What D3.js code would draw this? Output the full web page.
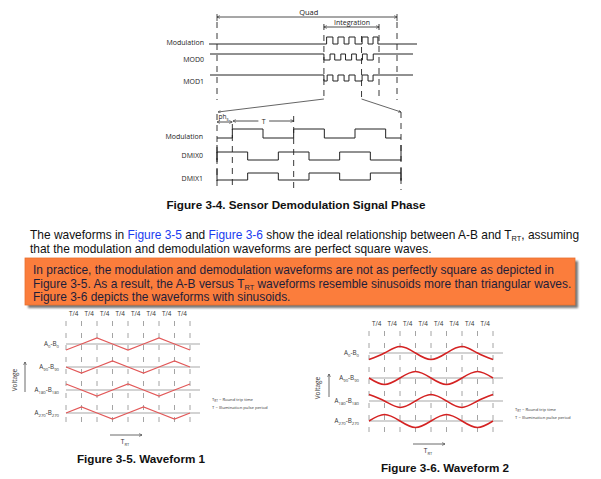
<!DOCTYPE html>
<html><head><meta charset="utf-8">
<script src="https://cdn.jsdelivr.net/npm/d3@7"></script>
<style>
html,body{margin:0;padding:0;background:#fff;}
svg{display:block;}
</style></head>
<body>
<script>
// ---------- DATA ----------
// Top timing diagram (quad window units 0..100)
const quadWindow = [0, 100];
const integrationWindow = [59.4, 90];
const topMarkers = [59.4, 80.3, 90];
const modPulses = [[60.9,64.4],[67.2,70.6],[73.3,76.7],[80.6,83.9],[86.7,89.4]];
const mod0Pulses = [[59.4,62.8],[65.4,68.8],[71.4,74.8],[77.4,80.8],[83.4,86.8]];
const mod1Pulses = [[59.4,61.2],[64.4,67.2],[70.6,73.3],[76.7,80.6],[83.9,86.7]];
const topRowLabels = ["Modulation", "MOD0", "MOD1"];

// Lower timing diagram (units of half period T/2)
const modEdges = [0, 0.5, 1.5, 2.5, 3.5, 4.5, 5.5, 6];
const modLevels = [0, 1, 0, 1, 0, 1, 0];
const dmixEdges = [0, 1, 2, 3, 4, 5, 6];
const dmix0Levels = [1, 0, 1, 0, 1, 0];
const dmix1Levels = [0, 1, 0, 1, 0, 1];
const lowerRowLabels = ["Modulation", "DMIX0", "DMIX1"];
const lowerMarkers = [0, 0.5, 2.5, 6];

// Waveforms (value at each T/4 step)
const quarterSteps = [0, 1, 2, 3, 4, 5, 6, 7, 8];
const tickLabels = ["T/4","T/4","T/4","T/4","T/4","T/4","T/4","T/4"];
const wave0   = [-1, 0, 1, 0, -1, 0, 1, 0, -1];
const wave90  = [0, -1, 0, 1, 0, -1, 0, 1, 0];
const wave180 = [1, 0, -1, 0, 1, 0, -1, 0, 1];
const wave270 = [0, 1, 0, -1, 0, 1, 0, -1, 0];
const waveNames = [["A","0","B","0"],["A","90","B","90"],["A","180","B","180"],["A","270","B","270"]];

// ---------- DRAW ----------
const W = 601, H = 479;
const svg = d3.select("body").append("svg").attr("width", W).attr("height", H);
svg.append("rect").attr("width", W).attr("height", H).attr("fill", "#fff");

const defs = svg.append("defs");
function openMarker(id, orient) {
  defs.append("marker").attr("id", id).attr("viewBox", "0 0 10 10")
    .attr("refX", 10).attr("refY", 5).attr("markerWidth", 4).attr("markerHeight", 4)
    .attr("orient", orient || "auto-start-reverse")
    .append("path").attr("d", "M0,0L10,5L0,10").attr("fill", "none").attr("stroke", "#222").attr("stroke-width", 1.5);
}
openMarker("arr");
defs.append("filter").attr("id","sh").append("feGaussianBlur").attr("stdDeviation", 1.2);

const diagFont = "'Open Sans', 'Liberation Sans', sans-serif";
const ink = "#222";

// --- Top diagram ---
const xq = d3.scaleLinear().domain(quadWindow).range([217, 397]);
const gTop = svg.append("g");

function hArrow(g, x1, x2, y) {
  g.append("line").attr("x1", x1).attr("x2", x2).attr("y1", y).attr("y2", y)
    .attr("stroke", ink).attr("stroke-width", 0.8)
    .attr("marker-start", "url(#arr)").attr("marker-end", "url(#arr)");
}
function dashV(g, x, y1, y2) {
  g.append("line").attr("x1", x).attr("x2", x).attr("y1", y1).attr("y2", y2)
    .attr("stroke", ink).attr("stroke-width", 0.9).attr("stroke-dasharray", "6,5");
}

hArrow(gTop, xq(quadWindow[0]), xq(quadWindow[1]), 17);
gTop.append("line").attr("x1", xq(0)).attr("x2", xq(0)).attr("y1", 14).attr("y2", 21).attr("stroke", ink).attr("stroke-width",0.8);
gTop.append("line").attr("x1", xq(100)).attr("x2", xq(100)).attr("y1", 14).attr("y2", 21).attr("stroke", ink).attr("stroke-width",0.8);
gTop.append("text").attr("x", xq(51)).attr("y", 15).attr("text-anchor", "middle")
  .attr("font-family", diagFont).attr("font-size", 7.5).attr("fill", ink).text("Quad");
hArrow(gTop, xq(integrationWindow[0]), xq(integrationWindow[1]), 27);
gTop.append("text").attr("x", xq(75)).attr("y", 25).attr("text-anchor", "middle")
  .attr("font-family", diagFont).attr("font-size", 7).attr("fill", ink).text("Integration");

dashV(gTop, xq(quadWindow[0]), 22, 100);
dashV(gTop, xq(quadWindow[1]), 22, 100);
topMarkers.forEach((m, i) => dashV(gTop, xq(m), i === 1 ? 36 : 24, 100));

function pulseRow(g, pulses, y0, dy, xStart, xEnd) {
  let d = `M${xStart},${y0}`;
  pulses.forEach(p => {
    d += `L${xq(p[0])},${y0}L${xq(p[0])},${y0 + dy}L${xq(p[1])},${y0 + dy}L${xq(p[1])},${y0}`;
  });
  d += `L${xEnd},${y0}`;
  g.append("path").attr("d", d).attr("fill", "none").attr("stroke", ink).attr("stroke-width", 1);
}
pulseRow(gTop, modPulses, 44, -7, 209, 417);
pulseRow(gTop, mod0Pulses, 54, 6, 210, 413);
pulseRow(gTop, mod1Pulses, 75, 6, 210, 413);
[42, 59, 81].forEach((yy, i) => {
  gTop.append("text").attr("x", 204).attr("y", yy + 2.5).attr("text-anchor", "end")
    .attr("font-family", diagFont).attr("font-size", 7).attr("fill", ink).text(topRowLabels[i]);
});

gTop.append("line").attr("x1", xq(integrationWindow[0])).attr("y1", 99).attr("x2", 218).attr("y2", 112)
  .attr("stroke", ink).attr("stroke-width", 0.7).attr("marker-end", "url(#arr)");
gTop.append("line").attr("x1", xq(topMarkers[1])).attr("y1", 99).attr("x2", 401).attr("y2", 112)
  .attr("stroke", ink).attr("stroke-width", 0.7).attr("marker-end", "url(#arr)");

// --- Lower diagram ---
const xl = d3.scaleLinear().domain([0, 6]).range([217, 401]);
const gLow = svg.append("g");
function stepRow(g, edges, levels, yLow, yHigh) {
  let d = `M${xl(edges[0])},${yLow}`;
  levels.forEach((lv, i) => {
    const y = lv ? yHigh : yLow;
    d += `L${xl(edges[i])},${y}L${xl(edges[i + 1])},${y}`;
  });
  d += `L${xl(edges[edges.length - 1])},${yLow}`;
  g.append("path").attr("d", d).attr("fill", "none").attr("stroke", ink).attr("stroke-width", 1);
}
stepRow(gLow, modEdges, modLevels, 138, 129);
stepRow(gLow, dmixEdges, dmix0Levels, 160, 152);
stepRow(gLow, dmixEdges, dmix1Levels, 180, 173);
gLow.append("line").attr("x1", xl(0)).attr("x2", xl(0)).attr("y1", 145).attr("y2", 162).attr("stroke", ink);
gLow.append("line").attr("x1", xl(6)).attr("x2", xl(6)).attr("y1", 145).attr("y2", 161).attr("stroke", ink);
gLow.append("line").attr("x1", xl(0)).attr("x2", xl(0)).attr("y1", 168).attr("y2", 181).attr("stroke", ink);
gLow.append("line").attr("x1", xl(6)).attr("x2", xl(6)).attr("y1", 168).attr("y2", 181).attr("stroke", ink);
[136, 155, 178].forEach((yy, i) => {
  gLow.append("text").attr("x", 203).attr("y", yy + 2.5).attr("text-anchor", "end")
    .attr("font-family", diagFont).attr("font-size", 7).attr("fill", ink).text(lowerRowLabels[i]);
});
dashV(gLow, xl(lowerMarkers[0]), 114, 190);
dashV(gLow, xl(lowerMarkers[1]), 124, 190);
dashV(gLow, xl(lowerMarkers[2]), 116, 190);
dashV(gLow, xl(lowerMarkers[3]), 112, 190);
hArrow(gLow, xl(0), xl(0.5), 122);
const phT = gLow.append("text").attr("x", xl(0.25) - 1).attr("y", 119).attr("text-anchor", "middle")
  .attr("font-family", diagFont).attr("font-size", 6.5).attr("fill", ink);
phT.append("tspan").text("ph");
phT.append("tspan").attr("dy", 2).attr("font-size", 4.5).text("s");
gLow.append("line").attr("x1", xl(0.52)).attr("x2", xl(1.35)).attr("y1", 121).attr("y2", 121).attr("stroke", ink).attr("stroke-width", 0.8).attr("marker-start", "url(#arr)");
gLow.append("line").attr("x1", xl(1.7)).attr("x2", xl(2.5)).attr("y1", 121).attr("y2", 121).attr("stroke", ink).attr("stroke-width", 0.8).attr("marker-end", "url(#arr)");
gLow.append("text").attr("x", xl(1.52)).attr("y", 123.5).attr("text-anchor", "middle")
  .attr("font-family", diagFont).attr("font-size", 7).attr("fill", ink).text("T");

// --- Text ---
const bodyFont = "'Liberation Sans', Arial, sans-serif";
svg.append("text").attr("x", 296).attr("y", 209).attr("text-anchor", "middle")
  .attr("font-family", bodyFont).attr("font-weight", "bold").attr("font-size", 11.7).attr("fill", "#111")
  .text("Figure 3-4. Sensor Demodulation Signal Phase");

function richLine(x, y, parts, color, size) {
  const t = svg.append("text").attr("x", x).attr("y", y).attr("font-family", bodyFont)
    .attr("font-size", size).attr("fill", color).attr("xml:space", "preserve");
  parts.forEach(p => {
    const ts = t.append("tspan").text(p.t);
    if (p.c) ts.attr("fill", p.c);
    if (p.sub) { ts.attr("font-size", size * 0.62).attr("dy", 2); }
    if (p.up) { ts.attr("dy", -2); }
  });
  return t;
}
const blue = "#1a3cf0";
const fs = 11.95;
richLine(30, 239, [
  {t: "The waveforms in "}, {t: "Figure 3-5", c: blue}, {t: " and "}, {t: "Figure 3-6", c: blue},
  {t: " show the ideal relationship between A-B and T"}, {t: "RT", sub: true}, {t: ", assuming", up: true}
], "#111", fs);
richLine(30, 252.5, [{t: "that the modulation and demodulation waveforms are perfect square waves."}], "#111", fs);

svg.append("rect").attr("x", 28).attr("y", 261).attr("width", 550).attr("height", 47).attr("fill", "#777").attr("filter", "url(#sh)");
svg.append("rect").attr("x", 25).attr("y", 258).attr("width", 550).attr("height", 47)
  .attr("fill", "#fb7d3c").attr("stroke", "#e8702f").attr("stroke-width", 0.8);
const boxInk = "#1e1e3a";
richLine(33, 274, [{t: "In practice, the modulation and demodulation waveforms are not as perfectly square as depicted in"}], boxInk, fs);
richLine(33, 287.5, [{t: "Figure 3-5. As a result, the A-B versus T"}, {t: "RT", sub: true}, {t: " waveforms resemble sinusoids more than triangular waves.", up: true}], boxInk, fs);
richLine(33, 301, [{t: "Figure 3-6 depicts the waveforms with sinusoids."}], boxInk, fs);

// --- Waveform figures ---
function waveFigure(cfg) {
  const g = svg.append("g");
  const x = d3.scaleLinear().domain([0, 8]).range([cfg.x0, cfg.x1]);
  const amp = d3.scaleLinear().domain([-1, 1]).range([cfg.amp, -cfg.amp]);
  tickLabels.forEach((lb, i) => {
    g.append("text").attr("x", x(i + 0.5)).attr("y", cfg.tickY).attr("text-anchor", "middle")
      .attr("font-family", diagFont).attr("font-size", 6.3).attr("fill", "#333").text(lb);
  });
  quarterSteps.forEach(k => {
    g.append("line").attr("x1", x(k)).attr("x2", x(k)).attr("y1", cfg.gridTop).attr("y2", cfg.gridBot)
      .attr("stroke", "#9a9a9a").attr("stroke-width", 0.9).attr("stroke-dasharray", "5,7");
  });
  const waves = [wave0, wave90, wave180, wave270];
  waves.forEach((w, r) => {
    const yb = cfg.rows[r];
    g.append("line").attr("x1", cfg.x0).attr("x2", cfg.baseEnd).attr("y1", yb).attr("y2", yb)
      .attr("stroke", "#c4c4c4").attr("stroke-width", 1.4);
    const line = d3.line().x((d, i) => x(quarterSteps[i])).y(d => yb + amp(d)).curve(cfg.curve);
    g.append("path").attr("d", line(w)).attr("fill", "none").attr("stroke", cfg.color).attr("stroke-width", cfg.sw);
    const nm = waveNames[r];
    const t = g.append("text").attr("x", cfg.labelX).attr("y", yb + 2).attr("text-anchor", "end")
      .attr("font-family", diagFont).attr("font-size", 6.3).attr("fill", "#333");
    t.append("tspan").text(nm[0]);
    t.append("tspan").attr("dy", 1.5).attr("font-size", 4.2).text(nm[1]);
    t.append("tspan").attr("dy", -1.5).text("-" + nm[2]);
    t.append("tspan").attr("dy", 1.5).attr("font-size", 4.2).text(nm[3]);
  });
  g.append("text").attr("transform", `translate(${cfg.voltX},${cfg.voltY}) rotate(-90)`).attr("text-anchor", "middle")
    .attr("font-family", diagFont).attr("font-size", 6.5).attr("fill", "#333").text("Voltage");
  g.append("line").attr("x1", cfg.voltArrowX).attr("x2", cfg.voltArrowX).attr("y1", cfg.voltArrow[0]).attr("y2", cfg.voltArrow[1])
    .attr("stroke", "#444").attr("stroke-width", 0.8).attr("marker-end", "url(#arr)");
  g.append("line").attr("x1", cfg.trt[0]).attr("x2", cfg.trt[1]).attr("y1", cfg.trtY).attr("y2", cfg.trtY)
    .attr("stroke", "#444").attr("stroke-width", 0.8).attr("marker-end", "url(#arr)");
  const tt = g.append("text").attr("x", (cfg.trt[0] + cfg.trt[1]) / 2 - 1).attr("y", cfg.trtY + 9).attr("text-anchor", "middle")
    .attr("font-family", diagFont).attr("font-size", 6.5).attr("fill", "#333");
  tt.append("tspan").text("T");
  tt.append("tspan").attr("dy", 1.5).attr("font-size", 4).text("RT");
  const n1 = g.append("text").attr("x", cfg.noteX).attr("y", cfg.noteY).attr("font-family", diagFont).attr("font-size", 4.2).attr("fill", "#333");
  n1.append("tspan").text("T");
  n1.append("tspan").attr("dy", 1).attr("font-size", 3).text("RT");
  n1.append("tspan").attr("dy", -1).text(" = Round trip time");
  g.append("text").attr("x", cfg.noteX).attr("y", cfg.noteY + 7.5).attr("font-family", diagFont).attr("font-size", 4.2).attr("fill", "#333")
    .text("T = Illumination pulse period");
  svg.append("text").attr("x", cfg.capX).attr("y", cfg.capY).attr("text-anchor", "middle")
    .attr("font-family", bodyFont).attr("font-weight", "bold").attr("font-size", 11.7).attr("fill", "#111").text(cfg.caption);
}

waveFigure({
  x0: 66, x1: 190, baseEnd: 200, amp: 6, tickY: 316, gridTop: 321, gridBot: 426,
  rows: [344, 367, 390, 413], color: "#e25858", sw: 1.2, curve: d3.curveLinear,
  labelX: 59, voltX: 17, voltY: 380, voltArrowX: 25, voltArrow: [392, 362],
  trt: [110, 142], trtY: 435, noteX: 212, noteY: 401,
  caption: "Figure 3-5. Waveform 1", capX: 141, capY: 463
});
waveFigure({
  x0: 369, x1: 493, baseEnd: 503, amp: 6.5, tickY: 326, gridTop: 331, gridBot: 436,
  rows: [353, 378, 401, 421], color: "#d42222", sw: 1.5, curve: d3.curveNatural,
  labelX: 359, voltX: 320, voltY: 388, voltArrowX: 329, voltArrow: [397, 374],
  trt: [413, 445], trtY: 444, noteX: 515, noteY: 411,
  caption: "Figure 3-6. Waveform 2", capX: 445, capY: 472
});
</script>
</body></html>
